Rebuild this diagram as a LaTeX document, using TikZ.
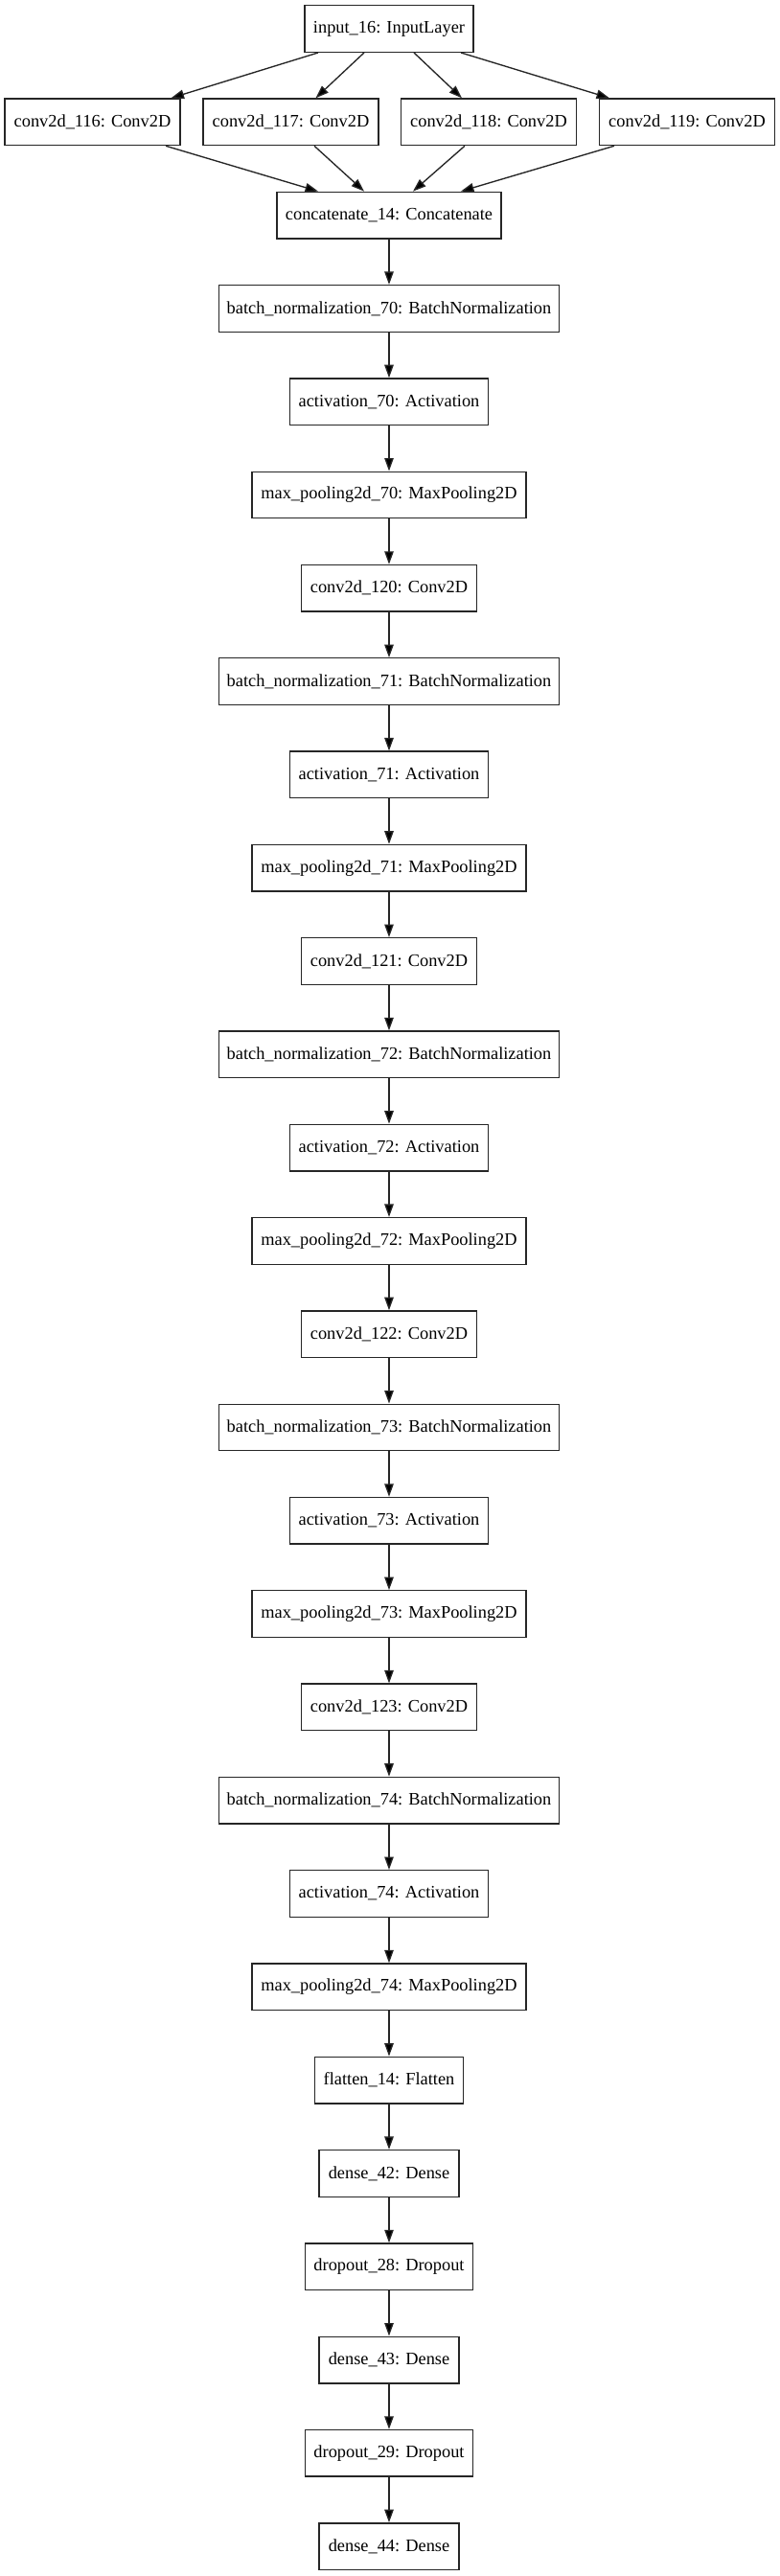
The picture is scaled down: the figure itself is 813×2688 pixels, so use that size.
\documentclass[tikz,border=0pt]{standalone}
\usepackage{fontspec}
\setmainfont{Liberation Serif}
\usetikzlibrary{arrows.meta,calc}
\tikzset{
  layer/.style={draw=black!85, line width=1pt, fill=white, rectangle, inner xsep=2pt, inner ysep=0pt,
    minimum height=36pt, font=\fontsize{13.6pt}{17pt}\selectfont},
  edge/.style={draw=black!85, line width=1pt, -{Triangle[length=10pt,width=7pt,fill=black]}},
}
\begin{document}
\begin{tikzpicture}[x=0.7407pt,y=-0.7407pt]
\useasboundingbox (0,0) rectangle (813,2688);
\node[layer, minimum width=176*0.7407pt] (n0) at (406,30) {input\_16: InputLayer};
\node[layer, minimum width=183*0.7407pt] (c116) at (96.5,127.3) {conv2d\_116: Conv2D};
\node[layer, minimum width=183*0.7407pt] (c117) at (303.5,127.3) {conv2d\_117: Conv2D};
\node[layer, minimum width=183*0.7407pt] (c118) at (510,127.3) {conv2d\_118: Conv2D};
\node[layer, minimum width=183*0.7407pt] (c119) at (717,127.3) {conv2d\_119: Conv2D};
\foreach \i/\w/\t in {
  2/234/concatenate\_14: Concatenate,
  3/355/batch\_normalization\_70: BatchNormalization,
  4/207/activation\_70: Activation,
  5/286/max\_pooling2d\_70: MaxPooling2D,
  6/183/conv2d\_120: Conv2D,
  7/355/batch\_normalization\_71: BatchNormalization,
  8/207/activation\_71: Activation,
  9/286/max\_pooling2d\_71: MaxPooling2D,
  10/183/conv2d\_121: Conv2D,
  11/355/batch\_normalization\_72: BatchNormalization,
  12/207/activation\_72: Activation,
  13/286/max\_pooling2d\_72: MaxPooling2D,
  14/183/conv2d\_122: Conv2D,
  15/355/batch\_normalization\_73: BatchNormalization,
  16/207/activation\_73: Activation,
  17/286/max\_pooling2d\_73: MaxPooling2D,
  18/183/conv2d\_123: Conv2D,
  19/355/batch\_normalization\_74: BatchNormalization,
  20/207/activation\_74: Activation,
  21/286/max\_pooling2d\_74: MaxPooling2D,
  22/155/flatten\_14: Flatten,
  23/146/dense\_42: Dense,
  24/175/dropout\_28: Dropout,
  25/146/dense\_43: Dense,
  26/175/dropout\_29: Dropout,
  27/146/dense\_44: Dense}
  \node[layer, minimum width=\w*0.7407pt] (n\i) at (406,{30+\i*97.3}) {\t};
% fan-out
\draw[edge] ($(n0.south)+(-74,0)$) -- ($(c116.north)+(82,0)$);
\draw[edge] ($(n0.south)+(-26,0)$) -- ($(c117.north)+(26,0)$);
\draw[edge] ($(n0.south)+(26,0)$) -- ($(c118.north)+(-28,0)$);
\draw[edge] ($(n0.south)+(75,0)$) -- ($(c119.north)+(-81,0)$);
% fan-in
\draw[edge] ($(c116.south)+(76.5,0)$) -- ($(n2.north)+(-74,0)$);
\draw[edge] ($(c117.south)+(24.5,0)$) -- ($(n2.north)+(-26,0)$);
\draw[edge] ($(c118.south)+(-25,0)$) -- ($(n2.north)+(25,0)$);
\draw[edge] ($(c119.south)+(-76,0)$) -- ($(n2.north)+(75,0)$);
% chain
\foreach \i [evaluate=\i as \j using int(\i+1)] in {2,...,26}
  \draw[edge] (n\i) -- (n\j);
\end{tikzpicture}
\end{document}
